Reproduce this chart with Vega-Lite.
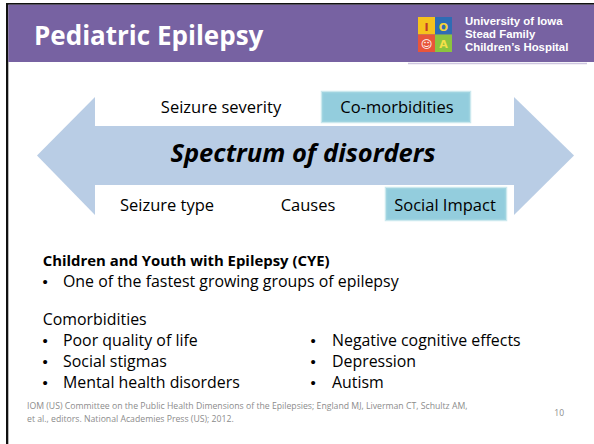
{
  "$schema": "https://vega.github.io/schema/vega-lite/v6.json",
  "width": 594,
  "height": 444,
  "padding": 0,
  "autosize": {"type": "none"},
  "background": "white",
  "config": {"view": {"stroke": null}},
  "datasets": {
    "shapes": [
      {"part": "frame", "x": 6, "x2": 594, "y": 3, "y2": 4.7},
      {"part": "frame", "x": 6, "x2": 8.3, "y": 3, "y2": 444},
      {"part": "header", "x": 8.3, "x2": 594, "y": 4.7, "y2": 62},
      {"part": "logoRule", "x": 408, "x2": 587, "y": 62.8, "y2": 64.3},
      {"part": "tileYellow", "x": 418, "x2": 435, "y": 17, "y2": 34.5},
      {"part": "tileBlue", "x": 435, "x2": 452, "y": 17, "y2": 34.5},
      {"part": "tileRed", "x": 418, "x2": 435, "y": 34.5, "y2": 52},
      {"part": "tileGreen", "x": 435, "x2": 452, "y": 34.5, "y2": 52},
      {"part": "arrowBody", "x": 94.5, "x2": 514.5, "y": 126, "y2": 185},
      {"part": "highlight", "x": 322, "x2": 470, "y": 92, "y2": 122},
      {"part": "highlight", "x": 386, "x2": 506, "y": 188, "y2": 220}
    ],
    "heads": [
      {"head": "left", "x": 37, "y": 155.5, "y2": 155.5},
      {"head": "left", "x": 95, "y": 97, "y2": 215},
      {"head": "right", "x": 514, "y": 97, "y2": 215},
      {"head": "right", "x": 574, "y": 155.5, "y2": 155.5}
    ],
    "glyphs": [
      {"part": "glyphI", "t": "I", "x": 426.5, "y": 30.5},
      {"part": "glyphO", "t": "O", "x": 443.5, "y": 30.5},
      {"part": "glyphA", "t": "A", "x": 443.5, "y": 48},
      {"part": "glyphFace", "t": "☺", "x": 426.5, "y": 48}
    ],
    "labels": [
      {"k": "title", "t": "Pediatric Epilepsy", "x": 34, "y": 45},
      {"k": "logo", "t": "University of Iowa", "x": 465, "y": 25.3},
      {"k": "logo", "t": "Stead Family", "x": 465, "y": 38.2},
      {"k": "logo", "t": "Children’s Hospital", "x": 465, "y": 51.1},
      {"k": "arrowLabel", "t": "Seizure severity", "x": 221, "y": 113},
      {"k": "arrowLabel", "t": "Co-morbidities", "x": 397, "y": 113},
      {"k": "arrowLabel", "t": "Seizure type", "x": 167, "y": 211},
      {"k": "arrowLabel", "t": "Causes", "x": 308, "y": 211},
      {"k": "arrowLabel", "t": "Social Impact", "x": 445, "y": 211},
      {"k": "spectrum", "t": "Spectrum of disorders", "x": 303, "y": 162},
      {"k": "heading", "t": "Children and Youth with Epilepsy (CYE)", "x": 42.7, "y": 266},
      {"k": "body", "t": "One of the fastest growing groups of epilepsy", "x": 63, "y": 287},
      {"k": "body", "t": "Comorbidities", "x": 42.7, "y": 325},
      {"k": "body", "t": "Poor quality of life", "x": 63, "y": 346},
      {"k": "body", "t": "Social stigmas", "x": 63, "y": 367},
      {"k": "body", "t": "Mental health disorders", "x": 63, "y": 388},
      {"k": "body", "t": "Negative cognitive effects", "x": 332, "y": 346},
      {"k": "body", "t": "Depression", "x": 332, "y": 367},
      {"k": "body", "t": "Autism", "x": 332, "y": 388},
      {"k": "bullet", "t": "•", "x": 45, "y": 287},
      {"k": "bullet", "t": "•", "x": 45, "y": 346},
      {"k": "bullet", "t": "•", "x": 45, "y": 367},
      {"k": "bullet", "t": "•", "x": 45, "y": 388},
      {"k": "bullet", "t": "•", "x": 313, "y": 346},
      {"k": "bullet", "t": "•", "x": 313, "y": 367},
      {"k": "bullet", "t": "•", "x": 313, "y": 388},
      {"k": "footer", "t": "IOM (US) Committee on the Public Health Dimensions of the Epilepsies; England MJ, Liverman CT, Schultz AM,", "x": 27, "y": 409},
      {"k": "footer", "t": "et al., editors. National Academies Press (US); 2012.", "x": 27, "y": 422},
      {"k": "page", "t": "10", "x": 564, "y": 416}
    ]
  },
  "layer": [
    {
      "data": {"name": "shapes"},
      "mark": {"type": "rect"},
      "encoding": {
        "x": {"field": "x", "type": "quantitative", "scale": {"domain": [0, 594], "nice": false, "zero": false}, "axis": null},
        "x2": {"field": "x2"},
        "y": {"field": "y", "type": "quantitative", "scale": {"domain": [0, 444], "nice": false, "zero": false, "reverse": true}, "axis": null},
        "y2": {"field": "y2"},
        "color": {
          "field": "part", "type": "nominal", "legend": null,
          "scale": {
            "domain": ["frame", "header", "logoRule", "tileYellow", "tileBlue", "tileRed", "tileGreen", "arrowBody", "highlight", "glyphI", "glyphO", "glyphA", "glyphFace"],
            "range": ["#111111", "#7762a2", "#cdc6df", "#f6c21c", "#2f6cb4", "#e8553a", "#8bc43f", "#b9cde5", "#93cddd", "#c0392b", "#f5d33a", "#f5e04a", "#ffffff"]
          }
        }
      }
    },
    {
      "data": {"name": "shapes"},
      "transform": [{"filter": "datum.part == 'highlight'"}],
      "mark": {"type": "rect", "fillOpacity": 0, "stroke": "#a9d8e3", "strokeWidth": 2.5, "strokeOpacity": 0.6},
      "encoding": {
        "x": {"field": "x", "type": "quantitative"},
        "x2": {"field": "x2"},
        "y": {"field": "y", "type": "quantitative"},
        "y2": {"field": "y2"}
      }
    },
    {
      "data": {"name": "heads"},
      "mark": {"type": "area", "color": "#b9cde5", "interpolate": "linear"},
      "encoding": {
        "x": {"field": "x", "type": "quantitative"},
        "y": {"field": "y", "type": "quantitative"},
        "y2": {"field": "y2"},
        "detail": {"field": "head", "type": "nominal"}
      }
    },
    {
      "data": {"name": "glyphs"},
      "mark": {"type": "text", "font": "DejaVu Sans", "fontSize": 11, "fontWeight": "bold", "align": "center", "baseline": "alphabetic"},
      "encoding": {
        "x": {"field": "x", "type": "quantitative"},
        "y": {"field": "y", "type": "quantitative"},
        "text": {"field": "t"},
        "color": {"field": "part", "type": "nominal", "legend": null}
      }
    },
    {
      "data": {"name": "labels"},
      "transform": [{"filter": "datum.k == 'title'"}],
      "mark": {"type": "text", "font": "Open Sans", "fontSize": 26, "fontWeight": "bold", "align": "left", "baseline": "alphabetic", "color": "#ffffff"},
      "encoding": {"x": {"field": "x", "type": "quantitative"}, "y": {"field": "y", "type": "quantitative"}, "text": {"field": "t"}}
    },
    {
      "data": {"name": "labels"},
      "transform": [{"filter": "datum.k == 'logo'"}],
      "mark": {"type": "text", "font": "Liberation Sans", "fontSize": 11.4, "fontWeight": "bold", "align": "left", "baseline": "alphabetic", "color": "#ffffff"},
      "encoding": {"x": {"field": "x", "type": "quantitative"}, "y": {"field": "y", "type": "quantitative"}, "text": {"field": "t"}}
    },
    {
      "data": {"name": "labels"},
      "transform": [{"filter": "datum.k == 'arrowLabel'"}],
      "mark": {"type": "text", "font": "Open Sans", "fontSize": 16.5, "align": "center", "baseline": "alphabetic", "color": "#000000"},
      "encoding": {"x": {"field": "x", "type": "quantitative"}, "y": {"field": "y", "type": "quantitative"}, "text": {"field": "t"}}
    },
    {
      "data": {"name": "labels"},
      "transform": [{"filter": "datum.k == 'spectrum'"}],
      "mark": {"type": "text", "font": "Open Sans", "fontSize": 25.5, "fontWeight": "bold", "fontStyle": "italic", "align": "center", "baseline": "alphabetic", "color": "#000000"},
      "encoding": {"x": {"field": "x", "type": "quantitative"}, "y": {"field": "y", "type": "quantitative"}, "text": {"field": "t"}}
    },
    {
      "data": {"name": "labels"},
      "transform": [{"filter": "datum.k == 'heading'"}],
      "mark": {"type": "text", "font": "Open Sans", "fontSize": 14.9, "fontWeight": "bold", "align": "left", "baseline": "alphabetic", "color": "#000000"},
      "encoding": {"x": {"field": "x", "type": "quantitative"}, "y": {"field": "y", "type": "quantitative"}, "text": {"field": "t"}}
    },
    {
      "data": {"name": "labels"},
      "transform": [{"filter": "datum.k == 'body'"}],
      "mark": {"type": "text", "font": "Open Sans", "fontSize": 15.9, "align": "left", "baseline": "alphabetic", "color": "#000000"},
      "encoding": {"x": {"field": "x", "type": "quantitative"}, "y": {"field": "y", "type": "quantitative"}, "text": {"field": "t"}}
    },
    {
      "data": {"name": "labels"},
      "transform": [{"filter": "datum.k == 'bullet'"}],
      "mark": {"type": "text", "font": "Liberation Sans", "fontSize": 15, "align": "center", "baseline": "alphabetic", "color": "#000000"},
      "encoding": {"x": {"field": "x", "type": "quantitative"}, "y": {"field": "y", "type": "quantitative"}, "text": {"field": "t"}}
    },
    {
      "data": {"name": "labels"},
      "transform": [{"filter": "datum.k == 'footer'"}],
      "mark": {"type": "text", "font": "Open Sans", "fontSize": 8.7, "align": "left", "baseline": "alphabetic", "color": "#8c8c8c"},
      "encoding": {"x": {"field": "x", "type": "quantitative"}, "y": {"field": "y", "type": "quantitative"}, "text": {"field": "t"}}
    },
    {
      "data": {"name": "labels"},
      "transform": [{"filter": "datum.k == 'page'"}],
      "mark": {"type": "text", "font": "Open Sans", "fontSize": 8.5, "align": "right", "baseline": "alphabetic", "color": "#8c8c8c"},
      "encoding": {"x": {"field": "x", "type": "quantitative"}, "y": {"field": "y", "type": "quantitative"}, "text": {"field": "t"}}
    }
  ]
}
